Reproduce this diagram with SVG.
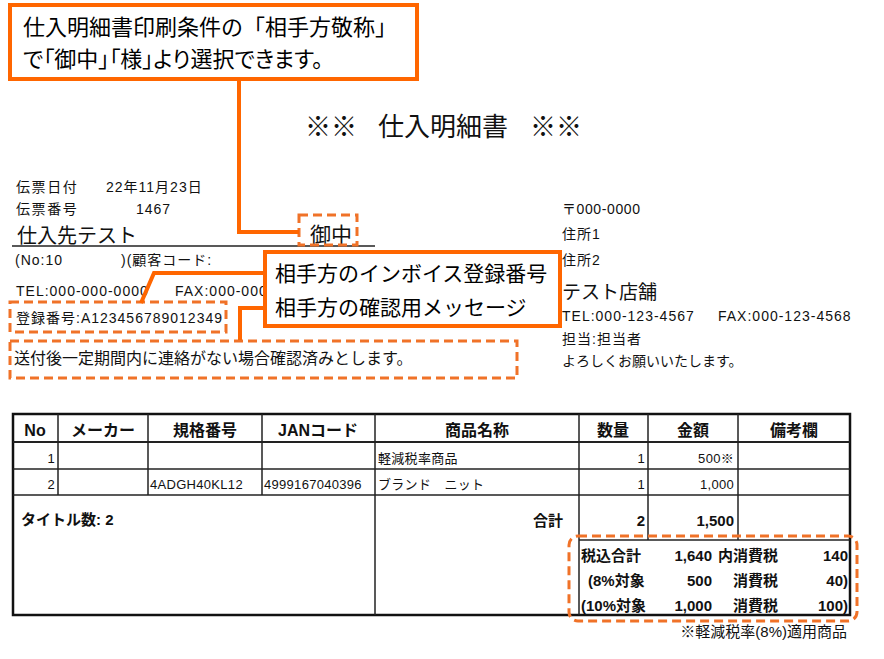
<svg xmlns="http://www.w3.org/2000/svg" width="884" height="659" viewBox="0 0 884 659">
<style>
text{font-family:"Liberation Sans","Noto Sans CJK JP",sans-serif;fill:#111}
.s{font-size:14px;letter-spacing:1px}
.r{font-size:13px;letter-spacing:0.3px}
.h{font-size:16px;font-weight:bold;text-anchor:middle}
.b{font-size:15px;font-weight:bold}
.e{text-anchor:end}
.call{fill:#fff;stroke:#FF6600;stroke-width:4}
.dash{fill:none;stroke:#F07228;stroke-width:3;stroke-dasharray:9 5}
.ct{font-size:22px;fill:#000}
.mt{font-size:21px;fill:#000}
.tb{fill:none;stroke:#111;stroke-width:2.5}
.tl{stroke:#222;stroke-width:1.5}
.conn{fill:none;stroke:#FF6600;stroke-width:4;stroke-linejoin:miter}
</style>
<rect width="884" height="659" fill="#fff"/>

<g id="doc-title">
<text font-size="26" y="136"><tspan x="305">※※</tspan><tspan x="378">仕入明細書</tspan><tspan x="530">※※</tspan></text>
</g>

<g id="doc-header-left">
<text class="s" y="192" style="letter-spacing:1.6px"><tspan x="16">伝票日付</tspan><tspan x="106" style="letter-spacing:1px">22年11月23日</tspan></text>
<text class="s" y="214" style="letter-spacing:1.6px"><tspan x="16">伝票番号</tspan><tspan x="136" style="letter-spacing:1px">1467</tspan></text>
<text x="17" y="243" font-size="20">仕入先テスト</text>
<line x1="12" y1="246" x2="375" y2="246" stroke="#222" stroke-width="1.3"/>
<text class="s" y="265"><tspan x="15">(No:10</tspan><tspan x="121">)(顧客コード:</tspan></text>
<text class="s" y="296"><tspan x="16">TEL:000-000-0000</tspan><tspan x="175">FAX:000-000</tspan></text>
<text x="16" y="323" class="s">登録番号:A123456789012349</text>
<text x="14" y="364" font-size="16">送付後一定期間内に連絡がない場合確認済みとします。</text>
<text x="310" y="242" font-size="21">御中</text>
</g>

<g id="doc-header-right">
<text x="562" y="214" class="s" style="letter-spacing:0.6px">〒000-0000</text>
<text x="562" y="239" class="s">住所1</text>
<text x="562" y="265" class="s">住所2</text>
<text x="562" y="299" font-size="19">テスト店舗</text>
<text class="s" y="321"><tspan x="562">TEL:000-123-4567</tspan><tspan x="718">FAX:000-123-4568</tspan></text>
<text x="562" y="344" class="s">担当:担当者</text>
<text x="562" y="366" font-size="14">よろしくお願いいたします。</text>
</g>

<g id="table">
<rect class="tb" x="13" y="414" width="837" height="201"/>
<line class="tl" x1="13" y1="442" x2="850" y2="442" style="stroke-width:2.2"/>
<line class="tl" x1="13" y1="469" x2="850" y2="469"/>
<line class="tl" x1="13" y1="495" x2="850" y2="495"/>
<line class="tl" x1="58" y1="414" x2="58" y2="495"/>
<line class="tl" x1="148" y1="414" x2="148" y2="495"/>
<line class="tl" x1="262" y1="414" x2="262" y2="495"/>
<line class="tl" x1="375" y1="414" x2="375" y2="615"/>
<line class="tl" x1="579" y1="414" x2="579" y2="615"/>
<line class="tl" x1="648" y1="414" x2="648" y2="540"/>
<line class="tl" x1="738" y1="414" x2="738" y2="540"/>
<line class="tl" x1="579" y1="540" x2="850" y2="540"/>

<text class="h" x="35" y="436">No</text>
<text class="h" x="103" y="436">メーカー</text>
<text class="h" x="205" y="436">規格番号</text>
<text class="h" x="318" y="436">JANコード</text>
<text class="h" x="477" y="436">商品名称</text>
<text class="h" x="613" y="436">数量</text>
<text class="h" x="693" y="436">金額</text>
<text class="h" x="794" y="436">備考欄</text>

<text class="r e" x="55" y="463">1</text>
<text class="r" x="378" y="463">軽減税率商品</text>
<text class="r e" x="645" y="463">1</text>
<text class="r e" x="734" y="463">500※</text>

<text class="r e" x="55" y="489">2</text>
<text class="r" x="150" y="489">4ADGH40KL12</text>
<text class="r" x="264" y="489">4999167040396</text>
<text class="r" x="378" y="489">ブランド　ニット</text>
<text class="r e" x="645" y="489">1</text>
<text class="r e" x="734" y="489">1,000</text>

<text class="b" x="21" y="525">タイトル数: 2</text>
<text class="b" x="533" y="526">合計</text>
<text class="b e" x="645" y="526" font-size="16">2</text>
<text class="b e" x="734" y="526" font-size="16">1,500</text>

<text class="b" x="581" y="561">税込合計</text>
<text class="b e" x="712" y="561">1,640</text>
<text class="b" x="718" y="561">内消費税</text>
<text class="b e" x="848" y="561">140</text>

<text class="b" x="588" y="586">(8%対象</text>
<text class="b e" x="712" y="586">500</text>
<text class="b" x="733" y="586">消費税</text>
<text class="b e" x="848" y="586">40)</text>

<text class="b" x="581" y="611">(10%対象</text>
<text class="b e" x="712" y="611">1,000</text>
<text class="b" x="733" y="611">消費税</text>
<text class="b e" x="848" y="611">100)</text>

<text class="e" x="847" y="637" font-size="15">※軽減税率(8%)適用商品</text>
</g>

<g id="highlight-keisho"><rect class="dash" x="299" y="215" width="58" height="30"/></g>
<g id="highlight-touroku"><rect class="dash" x="10" y="302" width="216" height="30"/></g>
<g id="highlight-message"><rect class="dash" x="10" y="341" width="507" height="37"/></g>
<g id="highlight-summary"><rect class="dash" x="569" y="536" width="288" height="85" rx="9"/></g>

<g id="connectors">
<path class="conn" d="M239,80 V232 H299"/>
<path class="conn" d="M265,273 H154 L141,303"/>
<path class="conn" d="M265,308 H240 V340"/>
</g>

<g id="callout-keisho">
<rect class="call" x="10" y="5" width="407" height="74"/>
<text class="ct" x="23" y="35">仕入明細書印刷条件の「相手方敬称」</text>
<text class="ct" x="23" y="67" style="font-feature-settings:'palt'">で「御中」「様」より選択できます。</text>
</g>

<g id="callout-invoice">
<rect class="call" x="265" y="252" width="295" height="74"/>
<text class="mt" x="275" y="281">相手方のインボイス登録番号</text>
<text class="mt" x="275" y="315">相手方の確認用メッセージ</text>
</g>
</svg>
